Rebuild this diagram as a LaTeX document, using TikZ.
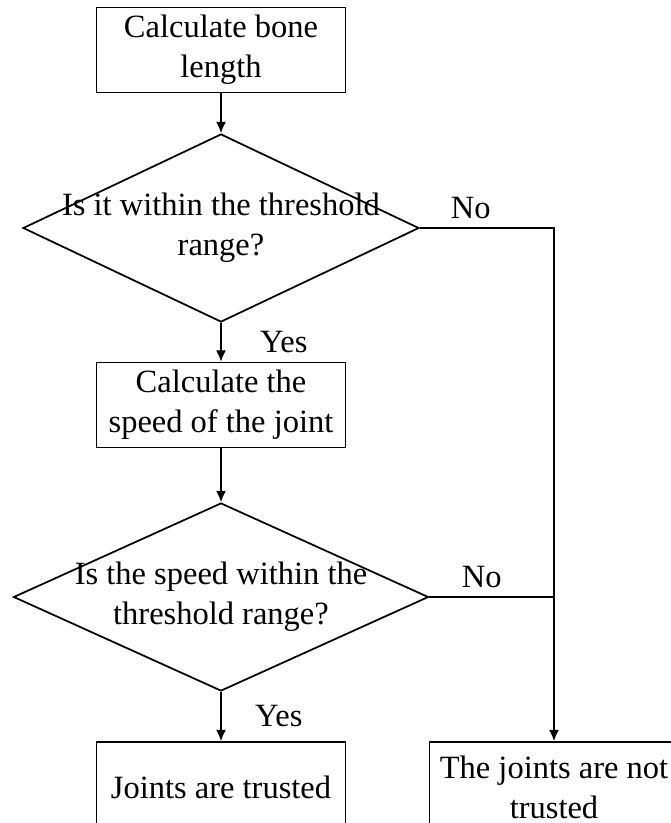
\documentclass[tikz,border=0pt]{standalone}
\usepackage{fontspec}
\setmainfont{Liberation Serif}
\usetikzlibrary{shapes.geometric,arrows.meta}

\begin{document}
\begin{tikzpicture}[x=0.4pt,y=-0.4pt,line width=0.7pt,
        font=\fontsize{13pt}{16pt}\selectfont,
        box/.style={draw,rectangle,align=center,minimum width=99.6pt,minimum height=34pt,inner sep=2pt},
        decision/.style={draw,diamond,inner sep=0pt,minimum width=#1,minimum height=75.2pt},
        arr/.style={-{Latex[length=4.5pt,width=4pt]}}]
    \clip (0,0) rectangle (671,823);
    \node[box] (bone) at (221,50) {Calculate bone\\length};
    \node[decision=158.4pt,label={[align=center]center:Is it within the threshold\\range?}] (boneok) at (221,228) {};
    \node[box] (speed) at (221,405) {Calculate the\\speed of the joint};
    \node[decision=166pt,label={[align=center]center:Is the speed within the\\threshold range?}] (speedok) at (221,597) {};
    \node[box,minimum height=36pt] (trust) at (221,787) {Joints are trusted};
    \node[box,minimum height=36pt] (notrust) at (554,787) {The joints are not\\trusted};
    \draw[arr] (bone) -- (boneok);
    \draw[arr] (boneok) -- node[right,xshift=12pt]{Yes} (speed);
    \draw[arr] (speed) -- (speedok);
    \draw[arr] (speedok) -- node[right,xshift=10pt]{Yes} (trust);
    \draw[arr] (boneok.east) -- node[above,pos=0.38]{No} (boneok.east -| notrust.north) -- (notrust.north);
    \draw (speedok.east) -- node[above,pos=0.42]{No} (speedok.east -| notrust.north);
\end{tikzpicture}
\end{document}
